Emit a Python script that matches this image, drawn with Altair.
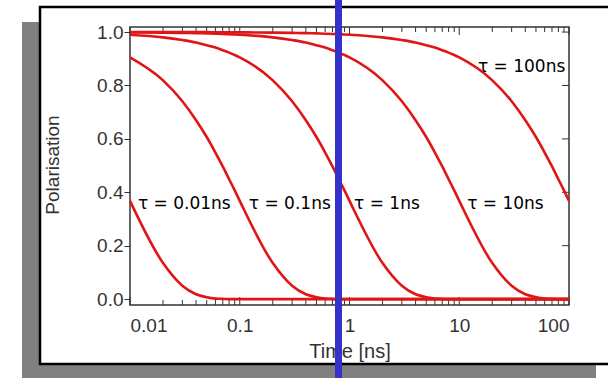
import altair as alt
import pandas as pd

# ---------------- data ----------------
times = [0.01, 0.02, 0.03, 0.04, 0.05, 0.06, 0.07, 0.08, 0.09,
         0.1, 0.2, 0.3, 0.4, 0.5, 0.6, 0.7, 0.8, 0.9,
         1, 2, 3, 4, 5, 6, 7, 8, 9,
         10, 20, 30, 40, 50, 60, 70, 80, 90, 100]

p_tau_001 = [0.368, 0.135, 0.050, 0.018, 0.007, 0.002, 0.001, 0.000, 0.000,
             0.000, 0.000, 0.000, 0.000, 0.000, 0.000, 0.000, 0.000, 0.000,
             0.000, 0.000, 0.000, 0.000, 0.000, 0.000, 0.000, 0.000, 0.000,
             0.000, 0.000, 0.000, 0.000, 0.000, 0.000, 0.000, 0.000, 0.000, 0.000]
p_tau_01 = [0.905, 0.819, 0.741, 0.670, 0.607, 0.549, 0.497, 0.449, 0.407,
            0.368, 0.135, 0.050, 0.018, 0.007, 0.002, 0.001, 0.000, 0.000,
            0.000, 0.000, 0.000, 0.000, 0.000, 0.000, 0.000, 0.000, 0.000,
            0.000, 0.000, 0.000, 0.000, 0.000, 0.000, 0.000, 0.000, 0.000, 0.000]
p_tau_1 = [0.990, 0.980, 0.970, 0.961, 0.951, 0.942, 0.932, 0.923, 0.914,
           0.905, 0.819, 0.741, 0.670, 0.607, 0.549, 0.497, 0.449, 0.407,
           0.368, 0.135, 0.050, 0.018, 0.007, 0.002, 0.001, 0.000, 0.000,
           0.000, 0.000, 0.000, 0.000, 0.000, 0.000, 0.000, 0.000, 0.000, 0.000]
p_tau_10 = [0.999, 0.998, 0.997, 0.996, 0.995, 0.994, 0.993, 0.992, 0.991,
            0.990, 0.980, 0.970, 0.961, 0.951, 0.942, 0.932, 0.923, 0.914,
            0.905, 0.819, 0.741, 0.670, 0.607, 0.549, 0.497, 0.449, 0.407,
            0.368, 0.135, 0.050, 0.018, 0.007, 0.002, 0.001, 0.000, 0.000, 0.000]
p_tau_100 = [1.000, 1.000, 1.000, 1.000, 1.000, 0.999, 0.999, 0.999, 0.999,
             0.999, 0.998, 0.997, 0.996, 0.995, 0.994, 0.993, 0.992, 0.991,
             0.990, 0.980, 0.970, 0.961, 0.951, 0.942, 0.932, 0.923, 0.914,
             0.905, 0.819, 0.741, 0.670, 0.607, 0.549, 0.497, 0.449, 0.407, 0.368]

series_names = ["0.01", "0.1", "1", "10", "100"]
series_values = [p_tau_001, p_tau_01, p_tau_1, p_tau_10, p_tau_100]

label_texts = ["τ = 0.01ns", "τ = 0.1ns", "τ = 1ns", "τ = 10ns", "τ = 100ns"]
label_t = [0.0118, 0.121, 1.10, 11.8, 14.8]
label_p = [0.355, 0.355, 0.355, 0.355, 0.868]

x_major = [0.01, 0.1, 1, 10, 100]
x_minor = [0.02, 0.03, 0.04, 0.05, 0.06, 0.07, 0.08, 0.09,
           0.2, 0.3, 0.4, 0.5, 0.6, 0.7, 0.8, 0.9,
           2, 3, 4, 5, 6, 7, 8, 9,
           20, 30, 40, 50, 60, 70, 80, 90]
y_ticks = [0.0, 0.2, 0.4, 0.6, 0.8, 1.0]

# ---------------- layout ----------------
W, H = 439, 278
PAD = {"left": 130, "top": 27, "right": 39, "bottom": 73}
RED = "#e01515"
AXC = "#333333"

xs = alt.Scale(type="log", domain=[0.01, 100], nice=False)
ys = alt.Scale(domain=[-0.022, 1.019], nice=False, zero=False)

rows = []
for name, vals in zip(series_names, series_values):
    for t, p in zip(times, vals):
        rows.append({"t": t, "P": p, "tau": name})
df_lines = pd.DataFrame(rows)
df_labels = pd.DataFrame({"t": label_t, "P": label_p, "text": label_texts})
df_major = pd.DataFrame({"t": x_major})
df_minor = pd.DataFrame({"t": x_minor})
df_yt = pd.DataFrame({"P": y_ticks})
one = pd.DataFrame({"a": [0]})

shadow = alt.Chart(one).mark_rect(color="#808080").encode(
    x=alt.value(-108), x2=alt.value(466), y=alt.value(-5), y2=alt.value(360))
box = alt.Chart(one).mark_rect(fill="white", stroke="black", strokeWidth=2.5).encode(
    x=alt.value(-90), x2=alt.value(490), y=alt.value(-20), y2=alt.value(337))
frame = alt.Chart(one).mark_rect(fill="transparent", stroke=AXC, strokeWidth=1.5).encode(
    x=alt.value(0), x2=alt.value(W), y=alt.value(0), y2=alt.value(H))

lines = alt.Chart(df_lines).mark_line(color=RED, strokeWidth=2.6, interpolate="monotone").encode(
    x=alt.X("t:Q", scale=xs, axis=alt.Axis(
        values=x_major, format="~g", title=None, ticks=False, domain=False, grid=False,
        labelPadding=11, zindex=1)),
    y=alt.Y("P:Q", scale=ys, axis=alt.Axis(
        values=y_ticks, format=".1f", title=None, tickSize=6, tickColor=AXC,
        domain=False, grid=False, labelPadding=1, zindex=1)),
    detail="tau:N",
)

def xticks(df, length):
    bot = alt.Chart(df).mark_rule(color=AXC, strokeWidth=1).encode(
        x=alt.X("t:Q", scale=xs, axis=None), y=alt.value(H), y2=alt.value(H - length))
    top = alt.Chart(df).mark_rule(color=AXC, strokeWidth=1).encode(
        x=alt.X("t:Q", scale=xs, axis=None), y=alt.value(0), y2=alt.value(length))
    return [bot, top]

right_ticks = alt.Chart(df_yt).mark_rule(color=AXC, strokeWidth=1).encode(
    y=alt.Y("P:Q", scale=ys, axis=None), x=alt.value(W), x2=alt.value(W - 7))

labels = alt.Chart(df_labels).mark_text(
    align="left", baseline="middle", font="DejaVu Sans", fontSize=17, color="black"
).encode(
    x=alt.X("t:Q", scale=xs, axis=None),
    y=alt.Y("P:Q", scale=ys, axis=None),
    text="text:N",
)

xtitle = alt.Chart(one).mark_text(
    text="Time [ns]", font="Liberation Sans", fontSize=20, color=AXC,
    align="center", baseline="middle"
).encode(x=alt.value(W / 2 + 0.5), y=alt.value(325))
ytitle = alt.Chart(one).mark_text(
    text="Polarisation", font="Liberation Sans", fontSize=19, color=AXC,
    align="center", baseline="middle", angle=270
).encode(x=alt.value(-77), y=alt.value(138))

blue = alt.Chart(one).mark_rule(color="#3333cc", strokeWidth=7).encode(
    x=alt.value(208.5), y=alt.value(-30), y2=alt.value(360))

chart = alt.layer(
    shadow, box, frame, *xticks(df_major, 8), *xticks(df_minor, 5), right_ticks,
    lines, labels, xtitle, ytitle, blue
).resolve_axis(x="independent", y="independent").properties(
    width=W, height=H, padding=PAD, autosize="none"
).configure_view(stroke=None).configure_axis(
    labelFont="Liberation Sans", labelFontSize=19, labelColor=AXC
)

chart.save("out.html", embed_options={"renderer": "svg", "actions": False})
